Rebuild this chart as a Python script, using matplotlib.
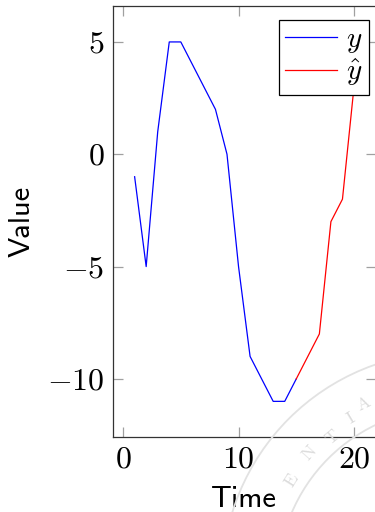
import numpy as np
from matplotlib import pyplot as plt
import matplotlib
from matplotlib.patches import Ellipse

matplotlib.rcParams['font.family'] = ['cmr10']
matplotlib.rcParams['mathtext.fontset'] = 'cm'
matplotlib.rcParams['axes.formatter.use_mathtext'] = True

# data
t_obs = [1, 2, 3, 4, 5, 6, 7, 8, 9, 10, 11, 12, 13, 14, 15]
y_obs = [-1, -5, 1, 5, 5, 4, 3, 2, 0, -5, -9, -10, -11, -11, -10]
t_pred = [15, 16, 17, 18, 19, 20]
y_pred = [-10, -9, -8, -3, -2, 3]
xticks = [0, 10, 20]
yticks = [-10, -5, 0, 5]

W, H = 375, 512
fig = plt.figure(figsize=(W / 100, H / 100), dpi=100)
ax = fig.add_axes([0.3005, 0.1459, 0.702, 0.8424])

ax.plot(t_obs, y_obs, color='#0000ff', lw=0.9, label='$y$')
ax.plot(t_pred, y_pred, color='#ff0000', lw=0.9, label=r'$\hat{y}$')

ax.set_xlim(-0.9, 21.9)
ax.set_ylim(-12.6, 6.6)
ax.set_xticks(xticks)
ax.set_yticks(yticks)
ax.tick_params(direction='in', length=7, width=0.9, color='#a0a0a0',
               top=True, right=True, labelsize=23, pad=6)
for s in ax.spines.values():
    s.set_color('#333333')
    s.set_linewidth(0.9)

ax.set_xlabel('Time', fontfamily='cmss10', fontsize=22, labelpad=9)
ax.set_ylabel('Value', fontfamily='cmss10', fontsize=22, labelpad=8)

leg = ax.legend(loc='upper right', bbox_to_anchor=(0.9734, 0.9675), borderaxespad=0,
                fancybox=False, edgecolor='black', framealpha=1, fontsize=21,
                handlelength=1.8, handletextpad=0.3, labelspacing=0.08, borderpad=0.22)
leg.get_frame().set_linewidth(0.9)

# faint seal watermark in the lower right corner (pixel centre 450, 580)
cx, cy = 450 / W, 1 - 580 / H
for r in (228, 172):
    fig.patches.append(Ellipse((cx, cy), 2 * r / W, 2 * r / H, transform=fig.transFigure,
                               fill=False, ec='#e2e2e2', lw=1.3, zorder=0))
seal = [('E', 292, 480, 58), ('N', 310, 453, 48), ('T', 332, 437, 40),
        ('I', 351, 418, 31), ('A', 364, 404, 25)]
for ch, px, py, rot in seal:
    fig.text(px / W, 1 - py / H, ch, rotation=rot, color='#dcdcdc', fontsize=13,
             ha='center', va='center', zorder=0)

fig.savefig('out.png', dpi=100)
